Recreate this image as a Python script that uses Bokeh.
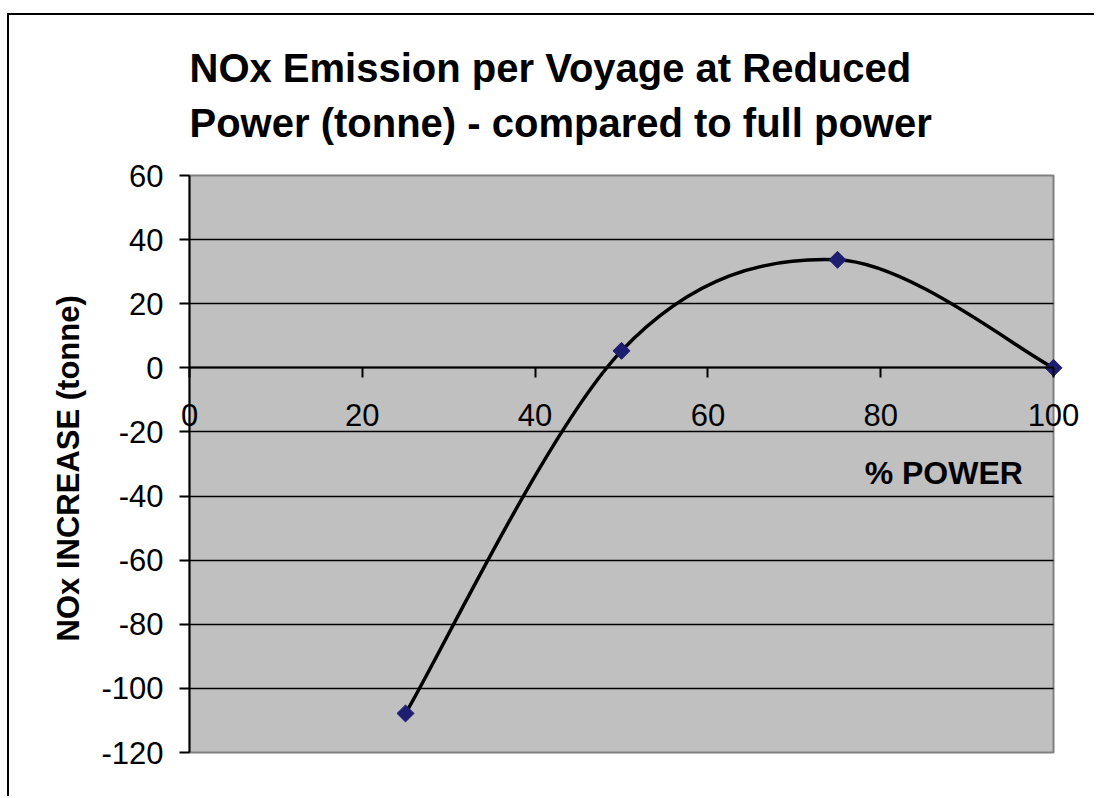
from bokeh.plotting import figure
from bokeh.models import (Range1d, FixedTicker, Label,
                          ColumnDataSource, CustomJSTickFormatter)
from bokeh.embed import file_html
from bokeh.resources import INLINE

# ---- data ----
power = [25, 50, 75, 100]
nox_increase = [-107.8, 5.3, 33.7, 0.0]
x_ticks = [0, 20, 40, 60, 80, 100]
y_ticks = [-120, -100, -80, -60, -40, -20, 0, 20, 40, 60]
grid_ticks = [-100, -80, -60, -40, -20, 0, 20, 40]
title_lines = ["NOx Emission per Voyage at Reduced",
               "Power (tonne) - compared to full power"]
x_label = "% POWER"
y_label = "NOx INCREASE  (tonne)"

FONT = "Liberation Sans"

# ---- layout (canvas pixels) ----
W, H = 1087, 783
FL, FR, FT, FB = 11, 1081, 143, 775          # wide frame so axis labels are never clipped
PL, PR, PT, PB = 180, 1044, 160, 737         # grey plot-area edges inside that frame
x0d, x1d = x_ticks[0], x_ticks[-1]
y0d, y1d = y_ticks[0], y_ticks[-1]
sx = (PR - PL) / (x1d - x0d)
sy = (PB - PT) / (y1d - y0d)
x_range = Range1d(x0d - (PL - FL) / sx, x1d + (FR - PR) / sx)
y_range = Range1d(y0d - (FB - PB) / sy, y1d + (PT - FT) / sy)

# Smoothed line (Excel style) drawn as cubic Bezier segments through the data points
n = len(power)
seg = dict(x0=[], y0=[], x1=[], y1=[], cx0=[], cy0=[], cx1=[], cy1=[])
for i in range(n - 1):
    a = max(i - 1, 0)
    b = min(i + 2, n - 1)
    seg["x0"].append(power[i]); seg["y0"].append(nox_increase[i])
    seg["x1"].append(power[i + 1]); seg["y1"].append(nox_increase[i + 1])
    seg["cx0"].append(power[i] + (power[i + 1] - power[a]) / 6)
    seg["cy0"].append(nox_increase[i] + (nox_increase[i + 1] - nox_increase[a]) / 6)
    seg["cx1"].append(power[i + 1] - (power[b] - power[i]) / 6)
    seg["cy1"].append(nox_increase[i + 1] - (nox_increase[b] - nox_increase[i]) / 6)
seg_src = ColumnDataSource(seg)
pt_src = ColumnDataSource(dict(x=power, y=nox_increase))

p = figure(width=W, height=H, x_range=x_range, y_range=y_range,
           output_backend="svg", toolbar_location=None,
           min_border_left=FL, min_border_right=W - FR,
           min_border_bottom=H - FB, min_border_top=FT)

p.styles = {"border-top": "2px solid #000000", "border-left": "2px solid #000000",
            "margin-top": "13px", "margin-left": "7px"}

p.background_fill_color = "white"
p.border_fill_color = "white"
p.outline_line_color = None

# grey plot area
area = p.quad(left=[x0d], right=[x1d], bottom=[y0d], top=[y1d],
              fill_color="#C0C0C0", line_color="#808080", line_width=2)
area.level = "image"

# two-line title
p.title.text = title_lines[0] + "\n" + title_lines[1]
p.title.align = "left"
p.title.offset = PL - FL
p.title.text_font = FONT
p.title.text_font_size = "40px"
p.title.text_font_style = "bold"
p.title.text_color = "black"
p.title.text_line_height = 1.25
p.title.standoff = 28

# horizontal gridlines limited to the grey plot area
p.xgrid.visible = False
g = p.ygrid[0]
g.ticker = FixedTicker(ticks=grid_ticks)
g.grid_line_color = "black"
g.grid_line_width = 1.6
if "cross_bounds" in g.properties():
    g.cross_bounds = (x0d, x1d)
else:
    g.visible = False
    p.segment(x0=[x0d] * len(grid_ticks), x1=[x1d] * len(grid_ticks),
              y0=grid_ticks, y1=grid_ticks, line_color="black", line_width=1.6)

# x axis crossing at y = 0
xa = p.xaxis[0]
xa.fixed_location = 0
xa.bounds = (x0d, x1d)
xa.ticker = FixedTicker(ticks=x_ticks)
xa.major_tick_in = 0
xa.major_tick_out = 10
xa.minor_tick_line_color = None
xa.axis_line_color = "black"
xa.axis_line_width = 2
xa.major_tick_line_width = 2
xa.major_label_standoff = 26
xa.major_label_text_font = FONT
xa.major_label_text_font_size = "31px"
xa.major_label_text_color = "black"

# y axis on the left edge of the plot area
ya = p.yaxis[0]
ya.fixed_location = x0d
ya.bounds = (y0d, y1d)
ya.ticker = FixedTicker(ticks=y_ticks)
ya.formatter = CustomJSTickFormatter(code="return tick.toString();")
ya.major_tick_in = 0
ya.major_tick_out = 10
ya.minor_tick_line_color = None
ya.axis_line_color = "black"
ya.axis_line_width = 2
ya.major_tick_line_width = 2
ya.major_label_standoff = 16
ya.major_label_text_font = FONT
ya.major_label_text_font_size = "31px"
ya.major_label_text_color = "black"
ya.axis_label = y_label
ya.axis_label_text_font = FONT
ya.axis_label_text_font_size = "31px"
ya.axis_label_text_font_style = "bold"
ya.axis_label_text_color = "black"
ya.axis_label_standoff = 12

p.add_layout(Label(x=87.3, y=-32.7, text=x_label, text_align="center",
                   text_baseline="middle", text_font=FONT,
                   text_font_size="32px", text_font_style="bold",
                   text_color="black"))

# data
p.bezier(x0="x0", y0="y0", x1="x1", y1="y1", cx0="cx0", cy0="cy0",
         cx1="cx1", cy1="cy1", source=seg_src, line_color="black", line_width=3.5)
p.scatter(x="x", y="y", source=pt_src, marker="square", size=12, angle=0.785398,
          fill_color="#1E1E70", line_color="#1E1E70")

open("out.html", "w").write(file_html(p, INLINE))
